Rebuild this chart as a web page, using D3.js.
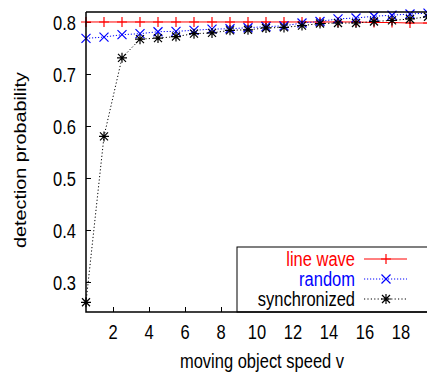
<!DOCTYPE html>
<html><head><meta charset="utf-8">
<script src="https://cdn.jsdelivr.net/npm/d3@7"></script>
<style>body{margin:0;background:#fff;}svg{display:block;font-family:"Liberation Sans",Arial,sans-serif;}</style>
</head><body>
<script>
const speeds = [0.5,1.5,2.5,3.5,4.5,5.5,6.5,7.5,8.5,9.5,10.5,11.5,12.5,13.5,14.5,15.5,16.5,17.5,18.5,19.5];
const lineWave = [0.8,0.8,0.8,0.8,0.8,0.8,0.8,0.8,0.8,0.8,0.8,0.8,0.8,0.8,0.8,0.8,0.799,0.799,0.798,0.798];
const randomS = [0.7685,0.771,0.7756,0.7775,0.7813,0.782,0.784,0.7863,0.787,0.789,0.791,0.7925,0.798,0.801,0.806,0.8077,0.811,0.813,0.8154,0.817];
const synchronized = [0.261,0.58,0.731,0.767,0.769,0.772,0.7775,0.779,0.784,0.785,0.7885,0.7896,0.793,0.797,0.798,0.798,0.801,0.803,0.8058,0.81];
const xTicks = [2,4,6,8,10,12,14,16,18];
const yTicks = [0.3,0.4,0.5,0.6,0.7,0.8];
const seriesNames = ["line wave","random","synchronized"];

const W=427,H=372;
const L=86,R=437,T=12,B=312;
const FS=16.5, SY=1.2;
const svg=d3.select("body").append("svg").attr("width",W).attr("height",H);
const x=d3.scaleLinear().domain([0.5,20]).range([L,R]);
const y=d3.scaleLinear().domain([0.2423,0.8192]).range([B,T]);

function label(parent,px,py,str,anchor,color,rot){
  const g=parent.append("g").attr("transform",`translate(${px},${py}) scale(1,${SY})`+(rot?` rotate(${rot})`:""));
  g.append("text").attr("text-anchor",anchor).attr("dy","0.35em").attr("font-size",FS).attr("fill",color||"#000").text(str);
  return g;
}

// axes with inward ticks (tick labels drawn separately to allow vertical stretch)
const xa=svg.append("g").attr("transform",`translate(0,${B})`)
  .call(d3.axisBottom(x).tickValues(xTicks).tickSizeInner(-5).tickSizeOuter(0).tickFormat(""));
const ya=svg.append("g").attr("transform",`translate(${L},0)`)
  .call(d3.axisLeft(y).tickValues(yTicks).tickSizeInner(-5).tickSizeOuter(0).tickFormat(""));
[xa,ya].forEach(g=>{g.select(".domain").remove();g.selectAll("line").attr("stroke","#000");});
xTicks.forEach(t=>label(svg,x(t),332,d3.format("d")(t),"middle"));
yTicks.forEach(t=>label(svg,76,y(t)+1,d3.format(".1f")(t),"end"));

// legend box
const lg=svg.append("g");
lg.append("rect").attr("x",237).attr("y",247).attr("width",200).attr("height",B-247).attr("fill","#fff").attr("stroke","#000").attr("stroke-width",1);

const series=[
 {name:seriesNames[0],vals:lineWave,color:"#ff0000",dash:null,mk:"plus"},
 {name:seriesNames[1],vals:randomS,color:"#0000ff",dash:"1.2,1.8",mk:"cross"},
 {name:seriesNames[2],vals:synchronized,color:"#000000",dash:"1.2,2.2",mk:"star"}
];
function marker(g,cx,cy,type,color){
  const s=5;
  const p=g.append("path").attr("fill","none").attr("stroke",color).attr("stroke-width",1.2);
  let d="";
  if(type==="plus"||type==="star") d+=`M${cx-s},${cy}H${cx+s}M${cx},${cy-s}V${cy+s}`;
  if(type==="cross"||type==="star"){const t=type==="star"?4:4.5; d+=`M${cx-t},${cy-t}L${cx+t},${cy+t}M${cx-t},${cy+t}L${cx+t},${cy-t}`;}
  p.attr("d",d);
}
const line=d3.line().x((d,i)=>x(speeds[i])).y(d=>y(d));
const rows=[259,279,299];
series.forEach((s,k)=>{
  const g=svg.append("g");
  g.append("path").datum(s.vals).attr("d",line).attr("fill","none").attr("stroke",s.color).attr("stroke-width",1).attr("stroke-dasharray",s.dash);
  s.vals.forEach((v,i)=>marker(g,x(speeds[i]),y(v),s.mk,s.color));
  const ry=rows[k];
  label(lg,355,ry,s.name,"end",s.color);
  lg.append("line").attr("x1",364).attr("x2",407).attr("y1",ry).attr("y2",ry).attr("stroke",s.color).attr("stroke-width",1).attr("stroke-dasharray",s.dash);
  marker(lg,386,ry,s.mk,s.color);
});
svg.node().appendChild(lg.node());

// frame
svg.append("path").attr("d",`M${L},${T}H${R}M${L},${T}V${B}H${R}`).attr("fill","none").attr("stroke","#000").attr("stroke-width",1.5);

label(svg,20,160,"detection probability","middle","#000",-90);
label(svg,262,361,"moving object speed v","middle","#000");
</script>
</body></html>
